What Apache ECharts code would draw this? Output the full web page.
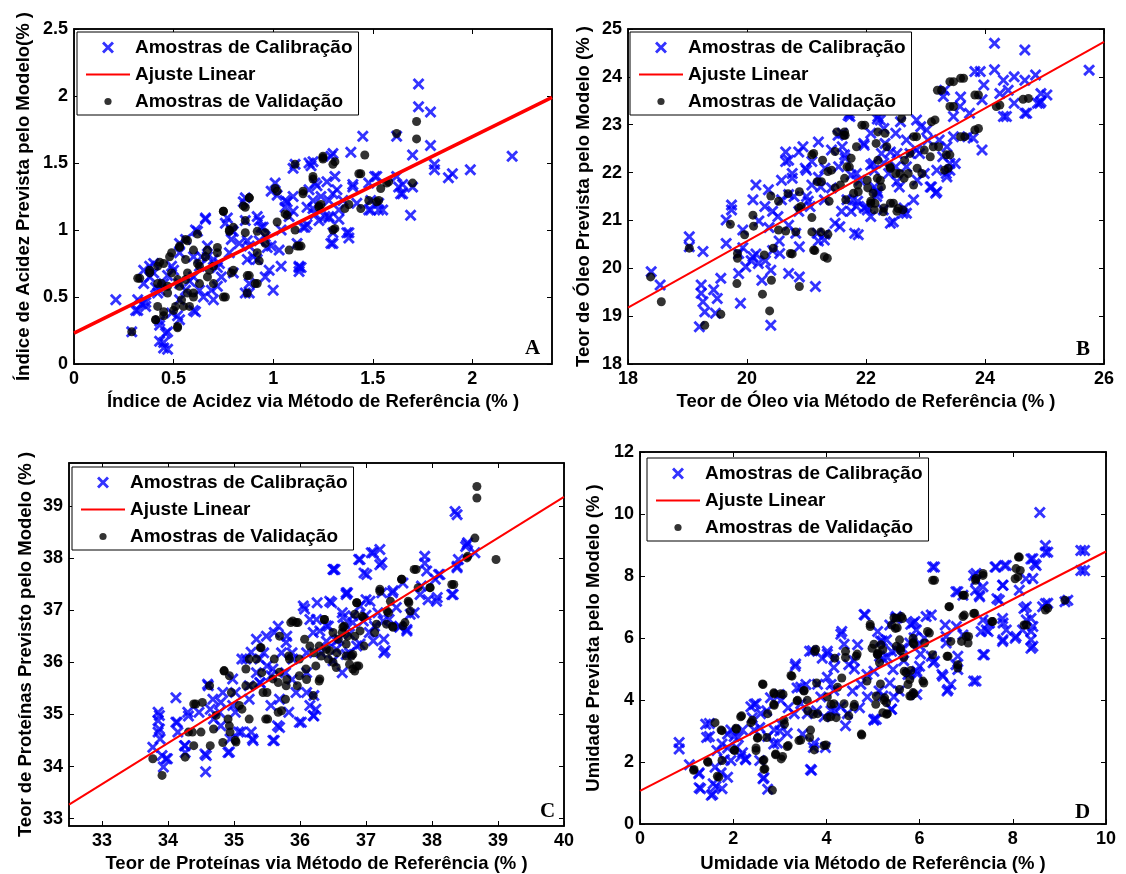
<!DOCTYPE html>
<html>
<head>
<meta charset="utf-8">
<script src="https://cdn.jsdelivr.net/npm/echarts@6/dist/echarts.min.js"></script>
<style>
  html, body { margin: 0; padding: 0; background: #fff; }
  #chart { width: 1126px; height: 874px; }
</style>
</head>
<body>
<div id="chart"></div>
<script>
// ---- dados ----
const calA = [[0.21,0.48],[0.29,0.24],[1.73,2.09],[1.73,1.92],[1.79,1.88],[1.79,1.63],[1.81,1.49],[1.81,1.45],[2.20,1.55],[1.99,1.45],[1.90,1.42],[1.88,1.39],[1.70,1.56],[1.70,1.32],[1.69,1.11],[1.65,1.34],[1.65,1.27],[1.62,1.70],[1.45,1.70],[1.39,1.58],[1.30,1.57],[1.20,1.51],[1.11,1.49],[1.31,1.40],[1.32,1.30],[1.38,0.98],[1.38,0.94],[1.30,0.90],[1.13,0.73],[1.13,0.69],[1.00,0.55],[1.01,1.35],[0.99,1.29],[0.86,1.24],[0.66,1.09],[0.61,1.00],[0.61,0.39],[0.45,0.12],[0.46,0.23],[0.43,0.17],[0.43,0.32],[0.86,0.53],[0.88,0.60],[0.96,0.65],[1.04,0.73],[1.49,1.22],[1.53,1.20],[1.55,1.15],[1.49,1.15],[1.51,1.40],[1.48,1.35],[1.40,1.34],[1.42,1.20],[1.33,1.15],[1.26,1.10],[1.24,1.25],[1.21,1.35],[1.17,1.17],[1.15,1.02],[1.06,1.17],[1.06,1.22],[1.08,1.10],[1.04,1.00],[0.92,1.10],[0.94,1.02],[0.88,0.88],[0.92,0.78],[0.79,0.93],[0.78,0.83],[0.70,0.78],[0.74,0.65],[0.69,0.55],[0.70,0.48],[0.67,0.88],[0.63,0.73],[0.56,0.93],[0.53,0.83],[0.49,0.73],[0.45,0.60],[0.42,0.53],[0.38,0.73],[0.35,0.60],[0.32,0.48],[0.31,0.40],[0.36,0.43],[0.53,0.48],[0.56,0.55],[0.60,0.65],[0.49,0.38],[0.53,0.33],[0.63,0.55],[0.79,1.00],[0.83,0.90],[0.87,0.78],[0.96,0.95],[0.99,0.88],[1.21,1.12],[1.62,1.40],[1.33,1.08],[1.30,0.98],[0.40,0.68],[0.47,0.66],[0.58,0.62],[0.64,0.80],[0.72,0.72],[1.10,1.25],[1.18,1.30],[1.28,1.22],[0.34,0.45],[0.41,0.57],
  [0.32,0.40],[0.36,0.46],[0.38,0.65],[0.43,0.29],[0.47,0.24],[0.45,0.16],[0.47,0.11],[0.60,0.40],[0.66,1.08],[0.62,0.99],[0.76,1.05],[0.77,1.09],[0.85,1.21],[0.86,1.07],[0.87,0.92],[0.88,0.53],[0.93,0.92],[0.95,1.02],[0.97,0.87],[0.98,0.70],[1.02,1.26],[1.03,0.85],[1.07,1.21],[1.10,1.14],[1.10,1.46],[1.12,0.90],[1.13,0.72],[1.17,1.04],[1.20,1.16],[1.22,1.33],[1.19,1.48],[1.27,1.36],[1.29,1.55],[1.28,1.09],[0.53,0.90],[0.60,0.80],[0.67,0.80],[0.73,0.75],[0.80,0.68],[0.72,0.58],[0.65,0.50],[0.80,0.99],[0.90,0.80],[0.93,1.07],[0.52,0.36],[0.35,0.70],[0.40,0.75],[0.50,0.70],[0.53,0.60],[0.43,0.55],
  [1.63,1.32],[1.64,1.27],[1.52,1.40],[1.53,1.15],[1.48,1.15],[1.30,1.27],[1.28,1.10],[1.37,0.98],[1.29,0.90],[1.18,1.50],[1.23,1.07],[1.16,1.02],[1.14,0.72],[1.40,1.32],[1.35,1.22],[1.20,1.22]];
const valA = [[0.29,0.24],[0.32,0.64],[0.52,0.27],[0.45,0.39],[0.41,0.33],[1.62,1.72],[1.72,1.81],[1.72,1.68],[1.70,1.35],[1.46,1.56],[1.44,1.42],[1.31,1.51],[1.25,1.54],[1.11,1.49],[1.20,1.40],[1.15,1.29],[1.54,1.31],[1.58,1.36],[1.53,1.22],[1.48,1.22],[1.44,1.16],[1.36,1.16],[1.31,1.01],[1.24,1.19],[1.11,1.00],[1.13,0.88],[1.08,0.85],[1.06,1.12],[1.01,1.31],[1.02,1.06],[0.88,1.24],[0.86,1.17],[0.86,1.07],[0.86,0.98],[0.75,1.14],[0.80,1.02],[0.78,1.00],[0.96,0.98],[0.96,0.90],[0.92,0.83],[0.91,0.60],[0.87,0.66],[0.87,0.53],[0.76,0.50],[0.79,0.68],[0.72,0.83],[0.70,0.73],[0.67,0.65],[0.62,0.97],[0.56,0.93],[0.53,0.88],[0.49,0.83],[0.45,0.75],[0.42,0.73],[0.38,0.68],[0.44,0.60],[0.47,0.53],[0.53,0.58],[0.56,0.63],[0.60,0.53],[0.54,0.48],[0.58,0.43],[0.51,0.43],[0.42,0.43],[0.63,0.73],[0.66,0.80],[0.70,0.60],[0.49,0.68],[0.56,0.78],[0.60,0.85],
  [0.33,0.64],[0.38,0.70],[0.43,0.76],[0.48,0.80],[0.53,0.87],[0.57,0.92],[0.42,0.60],[0.47,0.58],[0.52,0.63],[0.57,0.68],[0.62,0.75],[0.67,0.85],[0.72,0.87],[0.75,1.14],[0.78,0.99],[0.85,1.18],[0.88,1.24],[0.92,0.99],[0.93,0.77],[0.92,0.60],[0.88,0.66],[0.80,0.70],[0.75,0.50],[0.60,0.50],[0.55,0.43],[0.50,0.40],[0.45,0.36],[0.41,0.33],[0.52,0.28],[1.02,1.29],[1.07,1.11],[1.12,0.88],[1.15,1.27],[1.20,1.38],[1.25,1.53],[1.30,1.49],[1.30,1.00],[1.23,1.18],[0.68,0.70],[0.63,0.60],[0.57,0.53],[1.25,1.55],[1.43,1.42],[1.57,1.35],[1.52,1.21],[1.38,1.19],[1.23,1.17],[1.14,0.88]];
const fitA = [[0,0.23],[2.4,1.99]];

const calB = [[18.39,19.93],[18.54,19.65],[19.03,20.66],[19.03,20.45],[19.26,20.35],[19.23,19.65],[19.23,19.48],[19.26,19.30],[19.29,19.09],[19.20,18.78],[19.44,19.55],[19.50,19.37],[19.56,19.79],[19.47,19.06],[19.89,19.27],[19.86,19.89],[19.65,20.52],[19.65,21.01],[19.74,21.32],[19.74,21.22],[19.93,20.80],[20.10,21.43],[20.15,21.74],[20.10,20.24],[20.19,20.10],[20.25,19.75],[20.40,18.81],[20.40,19.96],[20.30,21.29],[20.36,21.64],[20.52,21.08],[20.55,20.31],[20.70,19.89],[20.88,19.82],[20.70,22.26],[20.76,21.98],[20.79,21.50],[20.94,22.54],[21.00,22.05],[20.88,20.45],[20.82,20.73],[21.15,19.62],[21.18,20.73],[21.30,20.59],[21.30,21.43],[21.24,21.70],[21.48,20.94],[21.54,22.12],[21.60,22.54],[21.60,22.82],[21.72,23.24],[21.81,20.73],[21.78,21.43],[21.84,21.98],[21.96,22.61],[22.02,21.22],[22.08,21.08],[22.14,21.70],[22.14,22.05],[22.20,23.17],[22.26,22.40],[22.38,21.98],[22.41,20.94],[22.50,22.82],[22.56,21.70],[22.62,21.15],[22.74,22.40],[22.80,21.43],[22.86,21.84],[22.92,22.96],[22.98,21.98],[23.10,21.70],[23.17,21.57],[23.23,22.68],[23.29,22.33],[23.32,23.72],[23.35,21.98],[23.41,22.19],[23.47,23.17],[23.59,23.58],[23.71,22.75],[23.74,23.24],[23.83,24.11],[23.92,24.11],[23.95,22.47],[23.95,23.52],[23.98,23.83],[24.16,24.70],[24.16,24.15],[24.25,23.65],[24.31,23.93],[24.31,23.17],[24.49,24.00],[24.49,23.45],[24.67,24.56],[24.67,23.93],[24.67,23.24],[24.85,24.04],[24.94,23.65],[24.94,23.48],[24.88,23.45],[25.75,24.14],[22.08,22.82],[22.32,22.61],[21.42,22.47],[20.58,21.84],[20.58,21.43],[21.06,21.29],[21.84,21.29],[22.20,21.57],[22.50,22.12],[22.68,22.68],[23.04,22.68],[23.47,22.75],[19.86,20.31],[19.98,20.03],[21.20,21.90],[21.65,22.30],[22.30,22.20],[22.90,22.40],[21.00,21.50],[20.70,20.90],
  [20.65,22.23],[20.76,21.88],[20.87,22.43],[20.98,22.09],[21.09,21.74],[20.70,21.54],[20.87,21.19],[21.03,21.40],[21.20,22.64],[21.31,22.09],[21.42,21.68],[21.53,22.78],[21.64,22.37],[21.75,21.95],[21.86,21.40],[21.97,22.57],[22.08,22.16],[22.19,21.61],[22.30,22.92],[22.41,22.43],[22.52,21.81],[22.64,21.26],[21.59,21.19],[21.75,21.19],[21.97,21.26],[21.20,20.57],[21.31,20.71],[20.37,20.85],[20.43,21.19],[20.20,20.99],[20.15,20.30],[20.31,20.16],[20.43,20.37],[20.54,20.57],[19.93,20.43],[20.07,20.16],[21.70,23.19],[22.19,23.12],[22.58,23.06],[21.09,22.23],[20.65,22.43],
  [21.56,20.87],[21.87,20.70],[22.46,20.97],[22.68,21.15],[23.19,21.60],[23.08,21.70],[23.41,22.05],[23.50,22.19],[23.36,22.54],[23.80,22.72],[22.85,23.10],[23.02,22.89],[22.24,23.10],[21.73,23.17],[22.52,22.40],[22.68,22.12],[22.12,22.19],[21.90,21.84],[22.18,21.50],[22.29,21.22],[22.01,21.29],[21.68,21.43],[22.85,22.47],[23.19,22.05],[23.36,21.91],[23.30,23.59],[23.58,23.38],[24.39,23.72],[24.36,23.17],[24.70,23.24],[24.92,23.45],[25.04,23.62]];
const valB = [[18.38,19.82],[18.56,19.30],[19.03,20.42],[19.29,18.81],[19.56,19.04],[19.72,20.92],[19.83,19.68],[19.84,20.21],[19.84,20.31],[19.96,20.70],[20.10,21.11],[20.11,20.88],[20.26,19.46],[20.29,20.28],[20.38,19.11],[20.40,21.51],[20.41,19.75],[20.44,20.42],[20.53,21.40],[20.53,20.80],[20.69,21.56],[20.73,20.31],[20.82,20.76],[20.88,19.62],[20.88,21.60],[20.91,21.29],[21.09,20.76],[21.12,20.38],[21.12,22.40],[21.18,21.81],[21.24,20.76],[21.27,22.26],[21.30,20.24],[21.35,20.21],[21.38,21.40],[21.42,22.05],[21.48,22.44],[21.51,22.85],[21.57,21.74],[21.63,22.78],[21.66,21.43],[21.72,22.12],[21.84,22.54],[21.87,21.60],[21.93,22.99],[22.02,21.84],[22.08,21.36],[22.14,21.22],[22.17,22.61],[22.20,22.26],[22.26,21.70],[22.32,22.82],[22.35,22.54],[22.41,21.36],[22.50,21.98],[22.54,21.25],[22.60,23.13],[22.62,21.22],[22.65,22.26],[22.71,21.98],[22.80,22.75],[22.80,21.74],[22.86,22.09],[22.98,22.47],[23.10,23.06],[23.13,22.54],[23.20,23.72],[23.32,22.05],[23.35,22.37],[23.41,23.38],[23.41,23.90],[23.59,23.97],[23.59,22.75],[23.83,23.62],[23.83,22.89],[24.19,23.38],[24.64,23.53],
  [21.09,22.37],[21.25,21.81],[21.36,22.02],[21.48,21.68],[21.64,21.88],[21.75,22.30],[21.86,21.74],[22.03,21.68],[22.08,21.40],[22.19,21.88],[22.30,21.26],[22.41,22.09],[22.52,21.19],[22.64,21.88],[20.87,21.26],[21.09,21.06],[21.14,20.37],[20.65,20.78],[20.76,20.30],[21.36,20.71],[21.64,22.85],
  [23.47,23.90],[23.64,23.97],[23.27,23.72],[23.89,23.62],[23.47,23.38],[23.16,23.10],[23.89,22.92],[23.66,22.75],[22.20,22.85],[22.85,22.75],[23.22,22.54],[23.41,22.37],[23.38,22.09],[23.08,22.33],[22.94,21.98],[22.74,22.40],[22.57,21.98],[22.40,22.12],[22.24,21.84],[22.12,21.57],[22.15,21.36],[22.29,21.18],[22.46,21.36],[21.79,21.57],[21.68,22.12],[21.98,22.99],[21.65,22.78],[24.73,23.55],[24.25,23.41]];
const fitB = [[18,19.18],[26,24.73]];

const calC = [[33.77,34.37],[33.85,35.04],[33.85,34.88],[33.85,34.66],[33.88,34.53],[33.91,34.21],[33.93,33.99],[33.99,34.15],[34.12,35.32],[34.12,34.85],[34.15,34.66],[34.26,34.40],[34.26,34.27],[34.31,34.97],[34.56,34.24],[34.57,33.90],[34.61,35.55],[34.64,35.10],[34.69,34.91],[34.80,34.78],[34.91,34.27],[34.94,34.53],[35.02,35.04],[35.02,35.42],[35.07,34.66],[35.12,36.06],[35.23,35.55],[35.26,34.66],[35.29,34.50],[35.34,35.80],[35.45,36.18],[35.56,35.74],[35.59,34.50],[35.61,36.57],[35.67,36.69],[35.69,34.75],[35.72,36.18],[35.78,35.80],[35.83,35.04],[35.88,36.18],[35.94,35.42],[36.02,34.85],[36.05,37.08],[36.10,35.80],[36.15,36.82],[36.21,35.36],[36.24,35.10],[36.21,34.97],[36.26,37.14],[36.32,36.18],[36.43,36.69],[36.51,37.78],[36.48,37.14],[36.59,36.44],[36.64,36.95],[36.72,37.33],[36.75,36.18],[36.80,36.76],[36.89,37.97],[36.91,37.08],[36.97,37.71],[37.00,37.20],[37.05,36.57],[37.08,38.10],[37.18,36.95],[37.21,38.16],[37.21,37.87],[37.24,37.33],[37.27,36.18],[37.27,36.44],[37.35,36.82],[37.40,37.33],[37.51,36.69],[37.56,37.52],[37.62,36.63],[37.73,36.95],[37.84,37.46],[37.89,38.03],[37.89,37.90],[37.94,37.20],[38.05,37.59],[38.08,37.24],[38.10,37.68],[38.32,37.30],[38.35,38.89],[38.38,38.83],[38.38,37.84],[38.40,37.97],[38.51,38.22],[38.54,38.29],[38.65,38.10],[34.47,35.04],[34.80,35.23],[35.34,36.44],[35.50,35.93],[36.64,35.80],[36.86,36.31],[37.13,36.69],[35.88,35.67],[36.10,36.18],[35.23,35.29],[35.56,35.17],[35.40,35.60],[36.40,36.40],[36.70,36.70],[37.00,36.90],[35.80,36.50],[36.30,36.60],
  [33.87,34.72],[33.87,34.98],[33.97,34.15],[34.14,34.85],[34.25,34.40],[34.30,35.04],[34.58,34.21],[34.60,35.58],[34.68,35.29],[34.83,35.42],[34.93,34.28],[34.98,35.17],[35.11,34.66],[35.18,36.06],[35.28,34.53],[35.26,36.19],[35.39,35.61],[35.49,36.50],[35.59,35.87],[35.61,34.50],[35.66,34.78],[35.69,35.29],[35.79,36.38],[35.89,36.06],[35.99,34.85],[36.07,37.02],[36.10,35.42],[36.15,35.17],[36.20,34.98],[36.20,36.57],[36.25,36.82],[36.40,36.70],[36.50,37.78],[36.55,36.25],[36.70,37.33],[36.80,36.89],[35.39,36.06],[34.98,35.68],[34.78,35.04],
  [36.91,37.97],[37.11,38.10],[37.24,37.91],[37.01,37.68],[36.53,37.78],[36.70,37.30],[37.06,37.17],[37.41,37.37],[37.46,37.05],[37.67,36.92],[37.82,37.30],[37.92,37.75],[38.07,37.17],[38.12,37.68],[38.30,37.30],[38.38,37.81],[38.53,38.26],[36.45,37.17],[36.65,36.86],[36.96,36.79],[37.26,36.79],[37.11,36.41],[37.29,36.22],[37.51,36.67],[37.62,36.60],[36.75,36.54],[36.55,36.41],[36.50,36.03],[36.70,36.15],[36.91,36.35]];
const valC = [[33.77,34.15],[33.91,33.83],[34.26,34.18],[34.31,34.66],[34.39,34.40],[34.50,34.66],[34.39,35.20],[34.64,34.40],[34.69,34.72],[34.83,34.46],[34.85,35.83],[34.91,34.91],[34.94,34.66],[34.96,35.42],[35.02,34.50],[35.12,35.10],[35.18,35.87],[35.23,36.06],[35.29,35.55],[35.40,36.28],[35.42,35.80],[35.48,34.91],[35.50,35.42],[35.61,36.06],[35.67,35.04],[35.67,35.61],[35.69,36.50],[35.78,35.29],[35.80,35.67],[35.83,36.12],[35.86,36.76],[35.94,36.76],[35.96,35.55],[35.99,36.06],[36.07,36.44],[36.10,35.67],[36.21,36.18],[36.24,35.93],[36.29,36.31],[36.29,35.64],[36.37,36.82],[36.43,36.06],[36.56,36.18],[36.64,36.57],[36.67,36.69],[36.72,36.50],[36.78,36.12],[36.83,35.83],[36.86,37.14],[36.89,35.93],[36.94,36.88],[36.97,36.31],[37.13,36.57],[37.21,37.36],[37.32,36.98],[37.37,37.17],[37.40,36.69],[37.54,37.59],[37.59,36.76],[37.65,37.14],[37.73,37.78],[37.97,37.43],[38.30,37.49],[38.54,38.03],[38.65,38.38],[38.68,39.37],[38.68,39.15],[38.97,37.97],
  [34.37,34.66],[34.42,35.20],[34.52,35.23],[34.63,35.55],[34.73,34.98],[34.85,35.84],[34.93,35.74],[34.93,34.78],[35.03,34.47],[35.08,35.17],[35.18,35.55],[35.23,34.91],[35.34,36.06],[35.41,36.28],[35.44,35.42],[35.51,34.91],[35.59,35.68],[35.69,35.81],[35.72,35.07],[35.79,35.55],[35.84,36.06],[35.89,36.79],[35.97,36.76],[35.99,35.74],[36.09,35.87],[36.15,36.31],[36.20,35.36],[36.30,35.68],[36.32,36.12],[36.40,36.25],[36.50,36.00],[36.58,36.44],[36.70,36.12],[36.80,35.87],[36.83,36.50],[36.37,36.82],
  [38.53,38.00],[38.33,37.49],[37.76,37.78],[37.54,37.59],[37.97,37.43],[37.79,37.43],[37.64,37.17],[37.67,36.98],[37.21,37.40],[37.34,36.95],[37.31,36.73],[37.41,36.67],[37.56,36.70],[36.86,37.14],[36.96,36.86],[36.83,36.92],[37.16,36.73],[36.65,36.67],[36.91,36.60],[36.50,36.57],[36.70,36.35],[36.80,36.15],[36.75,35.96],[36.86,35.93],[36.55,35.90],[36.45,36.22]];
const fitC = [[32.5,33.27],[40,39.17]];

const calD = [[0.84,2.63],[0.84,2.42],[1.30,1.14],[1.26,1.62],[1.41,3.22],[1.43,2.79],[1.53,0.93],[1.57,1.30],[1.61,1.83],[1.65,2.37],[1.76,1.14],[1.88,1.51],[1.95,2.05],[1.88,2.90],[2.07,2.47],[2.26,2.10],[2.45,3.86],[2.57,3.11],[2.57,2.05],[2.64,1.46],[2.72,3.65],[2.80,4.07],[2.87,2.58],[2.99,4.18],[3.03,3.22],[3.33,5.09],[3.37,4.39],[3.49,2.90],[3.64,5.57],[3.68,1.73],[3.72,2.47],[3.79,3.65],[3.91,5.35],[3.98,2.47],[4.02,5.57],[4.10,4.50],[4.18,3.65],[4.33,6.21],[4.41,3.17],[4.48,5.14],[4.56,4.29],[4.67,5.78],[4.71,3.75],[4.83,6.74],[4.87,4.82],[5.02,3.38],[5.10,6.21],[5.13,4.29],[5.21,5.35],[5.40,3.70],[5.48,6.63],[5.56,4.29],[5.63,5.67],[5.75,4.82],[5.90,6.53],[5.94,4.93],[5.98,5.78],[6.25,6.74],[6.28,8.29],[6.32,5.25],[6.48,4.82],[6.55,6.42],[6.59,4.29],[6.67,4.50],[6.78,7.49],[6.78,5.14],[6.93,6.10],[7.16,4.61],[7.16,8.02],[7.20,7.54],[7.28,7.38],[7.32,6.21],[7.36,5.46],[7.47,6.21],[7.62,8.29],[7.66,7.27],[7.78,7.70],[7.78,6.63],[7.78,5.89],[7.82,8.34],[8.05,5.99],[8.24,6.95],[8.28,7.91],[8.39,8.55],[8.39,6.63],[8.39,6.21],[8.39,5.67],[8.47,8.39],[8.58,10.05],[8.70,8.98],[8.70,8.77],[8.70,7.11],[9.12,7.17],[9.46,8.82],[9.46,8.18],[2.11,2.79],[3.18,3.75],[4.18,5.35],[5.02,4.93],[5.94,4.18],[3.56,4.50],[2.41,3.43],[1.76,2.58],[4.10,3.65],[5.40,5.57],[4.60,5.00],[5.20,5.90],[6.10,6.00],[3.00,3.00],[2.20,2.30],
  [1.06,1.91],[1.27,1.65],[1.27,1.17],[1.49,3.24],[1.49,2.82],[1.56,0.96],[1.63,1.22],[1.74,1.65],[1.81,2.07],[1.88,2.45],[1.95,3.03],[2.02,2.82],[2.16,2.18],[2.27,2.07],[2.20,3.03],[2.38,3.78],[2.49,3.88],[2.59,3.56],[2.66,1.49],[2.74,1.12],[2.74,2.82],[2.88,3.03],[2.95,2.61],[3.02,3.99],[3.16,2.93],[3.31,3.56],[3.34,5.16],[3.45,4.41],[3.59,3.56],[3.66,1.76],[3.74,2.61],[3.70,5.59],[3.81,4.51],[3.88,4.10],[3.95,3.46],[4.02,4.73],[4.16,5.05],[4.31,6.12],[4.38,5.80],[4.45,3.56],[4.59,5.27],[4.74,4.51],[4.81,6.76],[4.88,4.10],[5.02,3.35],[5.16,5.90],[5.31,5.37],[5.45,4.10],[5.52,6.65],[5.66,5.27],[5.81,6.44],[5.88,6.01],[5.95,4.84],[6.02,5.48],[4.02,5.48],[4.16,4.31],[4.31,3.78],[3.45,3.88],[2.45,3.03],
  [8.75,8.77],[9.54,8.82],[9.54,8.18],[6.32,8.29],[7.21,8.08],[7.64,8.29],[7.86,8.34],[8.43,8.56],[8.50,8.34],[8.43,7.92],[8.14,7.54],[7.79,7.70],[7.71,7.22],[7.36,7.65],[7.29,7.33],[7.21,7.86],[6.82,7.49],[6.93,7.38],[8.64,7.01],[8.75,7.12],[9.18,7.22],[8.29,7.01],[8.29,6.58],[8.43,6.37],[8.39,5.94],[8.43,5.73],[8.21,6.26],[8.07,6.05],[7.79,6.48],[7.79,5.94],[7.86,6.26],[7.43,6.26],[7.36,6.58],[7.50,6.48],[7.39,5.46],[7.21,4.61],[6.79,6.37],[6.57,6.05],[6.57,5.84],[6.82,5.41],[6.82,4.98],[6.50,4.77],[6.61,4.34],[6.25,5.41],[6.29,5.20],[6.14,6.69],[5.86,6.48],[5.93,6.26],[5.50,6.69],[5.36,6.42],[5.29,5.94],[5.14,5.41],[5.50,5.62],[5.79,5.84],[5.43,4.98],[5.79,4.88],[6.00,5.09],[5.36,4.55],[5.21,4.13],[5.07,3.38],[5.39,3.70]];
const valD = [[1.15,1.73],[1.46,1.99],[1.61,3.27],[1.69,1.51],[1.76,2.05],[1.76,3.01],[2.03,2.37],[2.07,3.06],[2.18,3.49],[2.38,3.27],[2.49,2.37],[2.53,2.79],[2.64,4.50],[2.64,2.05],[2.68,1.78],[2.72,2.79],[2.84,1.09],[2.87,4.23],[2.87,3.86],[2.91,2.26],[3.03,2.10],[3.07,4.18],[3.10,3.22],[3.18,2.53],[3.26,4.77],[3.37,3.97],[3.41,2.69],[3.52,4.29],[3.60,3.65],[3.64,2.79],[3.72,3.54],[3.75,5.57],[3.79,4.55],[3.95,2.53],[4.02,3.43],[4.10,3.86],[4.18,5.35],[4.21,3.43],[4.33,4.71],[4.41,5.57],[4.48,3.49],[4.60,3.86],[4.64,5.41],[4.75,2.90],[4.87,4.61],[4.94,6.37],[4.98,5.67],[5.06,3.86],[5.10,5.46],[5.17,5.78],[5.25,4.07],[5.29,3.54],[5.40,6.42],[5.48,6.31],[5.59,5.67],[5.63,6.63],[5.67,4.93],[5.75,4.50],[5.82,4.13],[5.86,5.99],[6.09,4.55],[6.17,6.21],[6.28,7.86],[6.28,5.46],[6.59,5.41],[6.63,7.01],[6.67,5.89],[6.82,5.03],[6.90,5.89],[6.93,7.38],[6.93,6.69],[7.05,6.05],[7.16,6.79],[7.20,7.86],[7.36,8.02],[7.55,6.53],[8.05,7.91],[8.12,8.61],[8.16,8.18],[8.24,6.42],[8.70,6.90],[9.12,7.22],
  [1.16,1.76],[1.45,2.02],[1.66,1.54],[1.74,3.03],[2.02,2.39],[2.06,3.09],[2.16,3.46],[2.41,3.35],[2.49,2.45],[2.52,2.77],[2.63,4.52],[2.66,2.07],[2.66,1.76],[2.74,3.56],[2.88,4.20],[2.88,3.83],[2.91,2.23],[3.02,4.20],[3.06,2.18],[3.09,3.35],[3.16,2.50],[3.24,4.79],[3.38,3.99],[3.45,2.71],[3.52,4.31],[3.59,3.99],[3.66,3.03],[3.74,2.39],[3.77,5.64],[3.81,3.56],[3.99,2.55],[4.02,4.10],[4.09,3.46],[4.16,3.88],[4.24,4.41],[4.38,3.88],[4.41,5.37],[4.59,3.78],[4.66,5.48],[4.76,2.87],[4.94,6.44],[5.02,5.80],[5.09,5.48],[5.16,4.52],[5.24,3.99],[5.31,3.56],[5.45,6.65],[5.52,6.33],[5.59,5.59],[5.66,5.37],[5.81,4.95],[5.88,4.20],[5.88,5.80],
  [8.14,8.61],[8.07,8.24],[8.11,7.97],[7.36,8.08],[7.21,7.92],[6.96,7.38],[6.32,7.86],[8.75,6.96],[8.29,6.42],[6.64,7.01],[6.96,6.74],[7.18,6.80],[7.57,6.53],[6.61,5.41],[6.82,5.14],[7.00,6.05],[7.04,5.84],[6.21,6.16],[6.11,5.84],[5.86,5.84],[5.57,5.94],[5.50,5.73],[5.21,5.62],[5.50,6.64],[5.61,6.69],[5.11,5.52],[5.14,5.20],[5.71,4.88],[5.79,4.66],[5.79,4.13],[5.86,4.24],[6.07,4.61],[5.57,4.34],[5.29,3.91],[5.21,3.59],[5.07,4.13]];
const fitD = [[0,1.07],[10,8.79]];

const ticksAx = [0, 0.5, 1, 1.5, 2];
const ticksAy = [0, 0.5, 1, 1.5, 2, 2.5];
const ticksBx = [18, 20, 22, 24, 26];
const ticksBy = [18, 19, 20, 21, 22, 23, 24, 25];
const ticksCx = [33, 34, 35, 36, 37, 38, 39, 40];
const ticksCy = [33, 34, 35, 36, 37, 38, 39];
const ticksDx = [0, 2, 4, 6, 8, 10];
const ticksDy = [0, 2, 4, 6, 8, 10, 12];

const nomeCal = 'Amostras de Calibração';
const nomeFit = 'Ajuste Linear';
const nomeVal = 'Amostras de Validação';

// ---- estilo ----
const FONT = "'Liberation Sans', Arial, sans-serif";
const crossPath = 'path://M0,1.7L1.7,0L5,3.3L8.3,0L10,1.7L6.7,5L10,8.3L8.3,10L5,6.7L1.7,10L0,8.3L3.3,5Z';
const dotPath = 'path://M0,0M10,10M2,5A3,3,0,1,1,8,5A3,3,0,1,1,2,5Z';

const grids = [
  { left: 74, top: 29, width: 478, height: 335 },
  { left: 628, top: 29, width: 476, height: 335 },
  { left: 69, top: 463, width: 495, height: 364 },
  { left: 640, top: 452, width: 466, height: 375 }
].map(g => ({ ...g, show: true, borderColor: '#000', borderWidth: 1.5, backgroundColor: '#fff' }))

const panels = [
  { x: [0, 2.4], y: [0, 2.5], tx: ticksAx, ty: ticksAy, cal: calA, val: valA, fit: fitA, fitW: 3.5,
    xName: 'Índice de Acidez via Método de Referência (% )', yName: 'Índice de Acidez Prevista pelo Modelo(% )',
    xGap: 28, yGap: 41, letter: 'A', lx: 520, ly: 333, leg: [77, 32] },
  { x: [18, 26], y: [18, 25], tx: ticksBx, ty: ticksBy, cal: calB, val: valB, fit: fitB, fitW: 2,
    xName: 'Teor de Óleo via Método de Referência (% )', yName: 'Teor de Óleo Prevista pelo Modelo (% )',
    xGap: 28, yGap: 35, letter: 'B', lx: 1071, ly: 334, leg: [630, 32] },
  { x: [32.5, 40], y: [32.86, 39.82], tx: ticksCx, ty: ticksCy, cal: calC, val: valC, fit: fitC, fitW: 2,
    xName: 'Teor de Proteínas via Método de Referência (% )', yName: 'Teor de Proteínas Previsto pelo Modelo (% )',
    xGap: 28, yGap: 34, letter: 'C', lx: 535, ly: 796, leg: [72, 467] },
  { x: [0, 10], y: [0, 12], tx: ticksDx, ty: ticksDy, cal: calD, val: valD, fit: fitD, fitW: 2,
    xName: 'Umidade via Método de Referência (% )', yName: 'Umidade Prevista pelo Modelo (% )',
    xGap: 30, yGap: 37, letter: 'D', lx: 1070, ly: 797, leg: [647, 458] }
]

const tickStyle = { color: '#000', fontSize: 18, fontWeight: 'bold', fontFamily: FONT }
const nameStyle = { color: '#000', fontSize: 18.5, fontWeight: 'bold', fontFamily: FONT }

const xAxis = []
const yAxis = []
const series = []
const legend = []
const title = []

panels.forEach((p, i) => {
  const base = {
    gridIndex: i,
    type: 'value',
    splitLine: { show: false },
    axisLine: { show: true, onZero: false, lineStyle: { color: '#000', width: 1.5 } }
  }
  xAxis.push({
    ...base, min: p.x[0], max: p.x[1], position: 'bottom',
    axisTick: { inside: true, length: 5, customValues: p.tx, lineStyle: { color: '#000' } },
    axisLabel: { ...tickStyle, margin: 6, customValues: p.tx },
    name: p.xName, nameLocation: 'middle', nameGap: p.xGap,
    nameTextStyle: { ...nameStyle }
  })
  xAxis.push({
    ...base, min: p.x[0], max: p.x[1], position: 'top',
    axisTick: { inside: true, length: 5, customValues: p.tx, lineStyle: { color: '#000' } },
    axisLabel: { show: false }
  })
  yAxis.push({
    ...base, min: p.y[0], max: p.y[1], position: 'left',
    axisTick: { inside: true, length: 5, customValues: p.ty, lineStyle: { color: '#000' } },
    axisLabel: { ...tickStyle, margin: 6, customValues: p.ty },
    name: p.yName, nameLocation: 'middle', nameGap: p.yGap,
    nameTextStyle: { ...nameStyle }
  })
  yAxis.push({
    ...base, min: p.y[0], max: p.y[1], position: 'right',
    axisTick: { inside: true, length: 5, customValues: p.ty, lineStyle: { color: '#000' } },
    axisLabel: { show: false }
  })

  const xi = i * 2
  series.push({
    name: nomeCal, type: 'scatter', xAxisIndex: xi, yAxisIndex: xi,
    symbol: crossPath, symbolSize: 12,
    itemStyle: { color: '#0000ff' },
    data: p.cal
  })
  series.push({
    name: nomeFit, type: 'line', xAxisIndex: xi, yAxisIndex: xi,
    symbol: 'none', lineStyle: { color: '#ff0000', width: p.fitW },
    itemStyle: { color: '#ff0000' },
    data: p.fit
  })
  series.push({
    name: nomeVal, type: 'scatter', xAxisIndex: xi, yAxisIndex: xi,
    symbol: 'circle', symbolSize: 9,
    itemStyle: { color: '#000' },
    data: p.val
  })

  legend.push({
    left: p.leg[0], top: p.leg[1], orient: 'vertical',
    backgroundColor: '#fff', borderColor: '#000', borderWidth: 1,
    padding: [6, 6, 4, 8], itemGap: 8, itemWidth: 44, itemHeight: 12,
    selectedMode: false,
    textStyle: { color: '#000', fontSize: 19, fontWeight: 'bold', fontFamily: FONT },
    data: [
      { name: nomeCal, icon: crossPath },
      { name: nomeFit, itemStyle: { opacity: 0 } },
      { name: nomeVal, icon: dotPath }
    ]
  })

  title.push({
    text: p.letter, left: p.lx, top: p.ly,
    textStyle: { color: '#000', fontSize: 21, fontWeight: 'bold', fontFamily: "'Liberation Serif', 'Times New Roman', serif" }
  })
})

const chart = echarts.init(document.getElementById('chart'))
chart.setOption({
  animation: false,
  backgroundColor: '#fff',
  title,
  legend,
  grid: grids,
  xAxis,
  yAxis,
  series
})
</script>
</body>
</html>
